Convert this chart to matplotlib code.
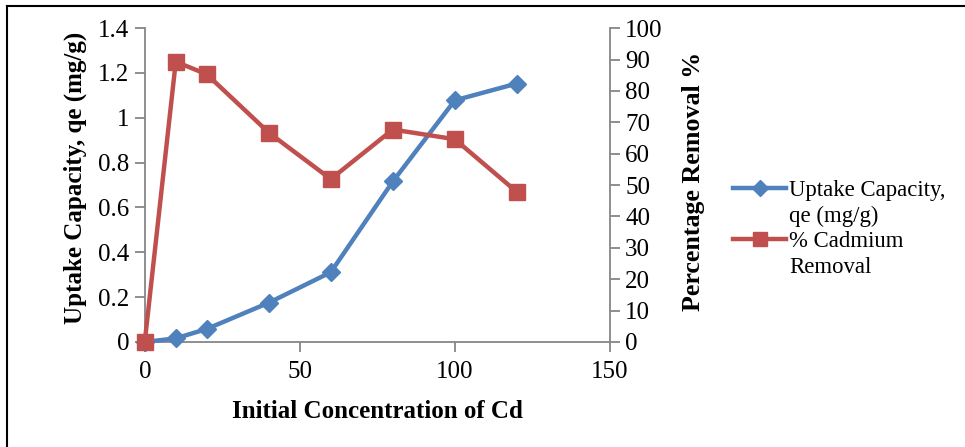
import matplotlib.pyplot as plt
from matplotlib.lines import Line2D

plt.rcParams['font.family'] = ['Liberation Serif', 'DejaVu Serif']

# Initial Cd concentration and the two measured series
conc = [0, 10, 20, 40, 60, 80, 100, 120]
uptake = [0, 0.016, 0.058, 0.175, 0.311, 0.716, 1.078, 1.153]
removal = [0, 89.3, 85.3, 66.7, 51.9, 67.7, 64.6, 47.8]

blue = '#4F81BD'
red = '#C0504D'
grey = '#868686'

fig = plt.figure(figsize=(9.65, 4.47), dpi=100)
ax = fig.add_axes([0.150, 0.235, 0.482, 0.702])
ax2 = ax.twinx()

ax.plot(conc, uptake, color=blue, lw=3.2, marker='D', ms=9,
        clip_on=False, zorder=3)
ax2.plot(conc, removal, color=red, lw=3.2, marker='s', ms=11,
         clip_on=False, zorder=3)

ax.set_xlim(0, 150)
ax.set_ylim(0, 1.4)
ax2.set_ylim(0, 100)
ax.set_xticks([0, 50, 100, 150])
ax.set_yticks([0, 0.2, 0.4, 0.6, 0.8, 1.0, 1.2, 1.4])
ax.set_yticklabels(['0', '0.2', '0.4', '0.6', '0.8', '1', '1.2', '1.4'])
ax2.set_yticks(range(0, 101, 10))

for a in (ax, ax2):
    for s in a.spines.values():
        s.set_color(grey)
        s.set_linewidth(1.3)
    a.spines['top'].set_visible(False)
    a.tick_params(colors=grey, labelcolor='black', labelsize=18,
                  length=7, width=1.3, direction='out')
ax.spines['right'].set_visible(False)
ax2.spines['left'].set_visible(False)
ax2.spines['bottom'].set_visible(False)
ax.tick_params(axis='y', pad=4)
ax.tick_params(axis='x', pad=7)
ax2.tick_params(axis='y', pad=4)

ax.set_xlabel('Initial Concentration of Cd', fontsize=18, fontweight='bold',
              labelpad=12)
ax.set_ylabel('Uptake Capacity, qe (mg/g)', fontsize=18, fontweight='bold',
              labelpad=8)
ax2.set_ylabel('Percentage Removal %', fontsize=18.7, fontweight='bold',
               labelpad=14)
ax.yaxis.label.set_y(0.522)
ax2.yaxis.label.set_y(0.513)

# legend: marker sits beside the first line of each wrapped entry
blank = Line2D([], [], linestyle='none')
handles = [Line2D([], [], color=blue, lw=3.2, marker='D', ms=8), blank,
           Line2D([], [], color=red, lw=3.2, marker='s', ms=10), blank]
labels = ['Uptake Capacity,', 'qe (mg/g)', '% Cadmium', 'Removal']
fig.legend(handles, labels, loc='upper left',
           bbox_to_anchor=(0.760, 0.597), frameon=False, fontsize=16.4,
           handlelength=2.3, handletextpad=0.15, labelspacing=0.2,
           borderaxespad=0, borderpad=0)

# outer frame around the chart
fig.add_artist(Line2D([0.0075, 0.0075], [0.0, 0.987], color='black', lw=1.5,
                      transform=fig.transFigure))
fig.add_artist(Line2D([0.0075, 1.0], [0.987, 0.987], color='black', lw=1.5,
                      transform=fig.transFigure))

fig.savefig('out.png', dpi=100)
